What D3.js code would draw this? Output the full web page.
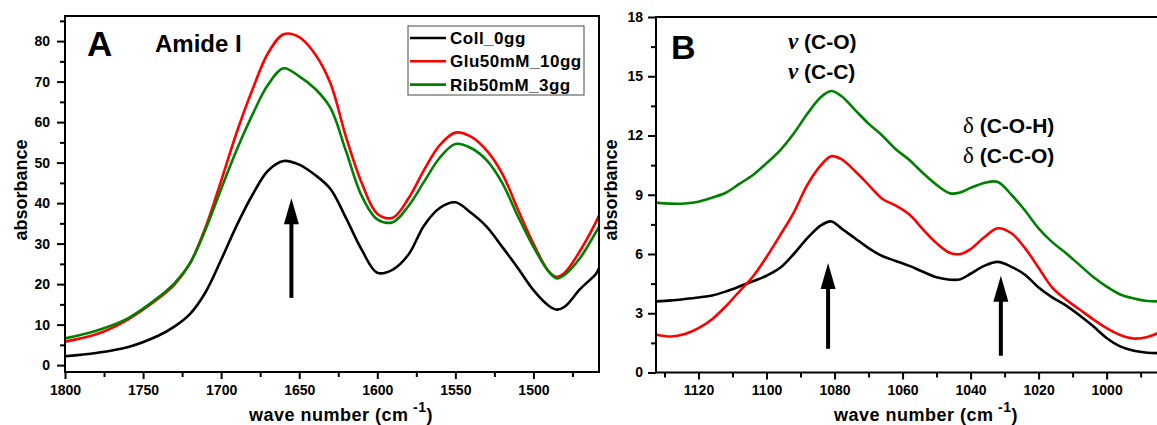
<!DOCTYPE html>
<html>
<head>
<meta charset="utf-8">
<script src="https://cdn.jsdelivr.net/npm/d3@7"></script>
<style>
  body { margin: 0; background: #fff; }
  svg { display: block; }
  text { font-family: Arial, "Liberation Sans", sans-serif; font-weight: bold; fill: #000; }
</style>
</head>
<body>
<div id="chart"></div>
<script>
// ---- panel A: Amide I region ----
const waveA = [1800, 1780, 1760, 1740, 1730, 1720, 1710, 1700, 1690, 1680,
  1670, 1660, 1650, 1640, 1630, 1620, 1610, 1600, 1590, 1580,
  1570, 1560, 1550, 1540, 1530, 1520, 1510, 1500, 1490, 1485,
  1480, 1470, 1460, 1458];
const collA = [2.2, 3.0, 4.4, 7.3, 9.5, 12.6, 18, 26, 34.5, 42,
  48, 50.4, 49.5, 47, 43.5, 36.3, 28.5, 22.8, 23.6, 27.3,
  34.5, 38.8, 40.2, 37.6, 34.2, 29.2, 24, 18.5, 14.6, 13.7,
  14.4, 18.8, 22.5, 23.9];
const gluA = [5.8, 7.6, 11.2, 16.5, 19.8, 25.1, 34, 45.5, 57.5, 68,
  77, 81.7, 81, 76.9, 69.6, 56.3, 45, 37.4, 36.4, 41.2,
  48.2, 54.3, 57.4, 56.4, 53, 47.3, 38.5, 30, 23, 21.8,
  22.8, 28.3, 35.3, 37];
const ribA = [6.6, 8.5, 11.5, 16.8, 20.2, 25.1, 33.5, 43.5, 53.2, 61.8,
  69.2, 73.3, 71.3, 68.3, 63.5, 52.8, 41.8, 36, 35.3, 39.3,
  45.3, 51.2, 54.6, 53.6, 50.6, 45, 36.8, 29.2, 23, 21.4,
  22.3, 26.5, 32.8, 34.1];
const xTicksA = [1800, 1750, 1700, 1650, 1600, 1550, 1500];
const xMinorA = [1775, 1725, 1675, 1625, 1575, 1525, 1475];
const yTicksA = [0, 10, 20, 30, 40, 50, 60, 70, 80];
const yMinorA = [5, 15, 25, 35, 45, 55, 65, 75, 85];
const arrowsA = [[1655, 16.6, 41.2]]; // wave, from, to

// ---- panel B: C-O / C-C region ----
const waveB = [1132.5, 1128, 1124, 1120, 1116, 1112, 1108, 1104, 1100, 1096,
  1092, 1088, 1084, 1081, 1078, 1074, 1070, 1066, 1062, 1058,
  1054, 1050, 1046, 1043, 1040, 1036, 1032, 1028, 1024, 1020,
  1016, 1012, 1008, 1004, 1000, 996, 992, 988, 985];
const collB = [3.6, 3.65, 3.72, 3.8, 3.9, 4.1, 4.35, 4.62, 4.9, 5.3,
  6.0, 6.8, 7.45, 7.65, 7.3, 6.8, 6.3, 5.9, 5.65, 5.4,
  5.1, 4.82, 4.7, 4.72, 5.0, 5.4, 5.6, 5.35, 4.95, 4.3,
  3.8, 3.4, 2.9, 2.35, 1.75, 1.32, 1.1, 1.0, 0.98];
const gluB = [1.91, 1.82, 1.95, 2.25, 2.7, 3.35, 4.1, 4.86, 5.85, 6.95,
  8.1, 9.5, 10.5, 10.95, 10.8, 10.2, 9.5, 8.8, 8.45, 8.0,
  7.25, 6.55, 6.05, 6.0, 6.25, 6.85, 7.3, 7.05, 6.3, 5.3,
  4.3, 3.7, 3.2, 2.7, 2.25, 1.9, 1.72, 1.8, 1.99];
const ribB = [8.6, 8.55, 8.56, 8.65, 8.85, 9.1, 9.55, 10.0, 10.6, 11.25,
  12.1, 13.1, 13.95, 14.25, 14.0, 13.3, 12.6, 12.0, 11.3, 10.76,
  10.1, 9.5, 9.07, 9.12, 9.35, 9.6, 9.65, 9.0, 8.2, 7.3,
  6.6, 6.05, 5.45, 4.85, 4.35, 3.95, 3.75, 3.62, 3.6];
const xTicksB = [1120, 1100, 1080, 1060, 1040, 1020, 1000];
const xMinorB = [1130, 1110, 1090, 1070, 1050, 1030, 1010, 990];
const yTicksB = [0, 3, 6, 9, 12, 15, 18];
const yMinorB = [1.5, 4.5, 7.5, 10.5, 13.5, 16.5];
const arrowsB = [[1081.9, 1.2, 5.55], [1031.1, 0.85, 4.9]];

const seriesNames = ["Coll_0gg", "Glu50mM_10gg", "Rib50mM_3gg"];
const seriesColors = ["#000000", "#ff0000", "#008000"];

const svg = d3.select("#chart").append("svg")
  .attr("width", 1157).attr("height", 425);

const labelFont = "Arial, 'Liberation Sans', sans-serif";

function drawPanel(p) {
  const x = d3.scaleLinear().domain(p.xDomain).range([p.left, p.right]);
  const y = d3.scaleLinear().domain(p.yDomain).range([p.bottom, p.top]);
  const g = svg.append("g");

  // y axis major + minor
  g.append("g").attr("transform", `translate(${p.left},0)`)
    .call(d3.axisLeft(y).tickValues(p.yTicks).tickSize(8).tickPadding(p.yPad).tickFormat(d3.format("d")))
    .call(a => a.select(".domain").remove())
    .call(a => a.selectAll("line").attr("stroke-width", 2))
    .call(a => a.selectAll("text").style("font-size", "14px").style("font-family", labelFont).style("font-weight", "bold"));
  g.append("g").attr("transform", `translate(${p.left},0)`)
    .call(d3.axisLeft(y).tickValues(p.yMinor).tickSize(5).tickFormat(""))
    .call(a => a.select(".domain").remove())
    .call(a => a.selectAll("line").attr("stroke-width", 2));

  // x axis major + minor
  g.append("g").attr("transform", `translate(0,${p.bottom})`)
    .call(d3.axisBottom(x).tickValues(p.xTicks).tickSize(7).tickPadding(6).tickFormat(d3.format("d")))
    .call(a => a.select(".domain").remove())
    .call(a => a.selectAll("line").attr("stroke-width", 2))
    .call(a => a.selectAll("text").style("font-size", "14px").style("font-family", labelFont).style("font-weight", "bold"));
  g.append("g").attr("transform", `translate(0,${p.bottom})`)
    .call(d3.axisBottom(x).tickValues(p.xMinor).tickSize(5).tickFormat(""))
    .call(a => a.select(".domain").remove())
    .call(a => a.selectAll("line").attr("stroke-width", 2));

  // curves
  const clipId = "clip" + p.id;
  svg.append("clipPath").attr("id", clipId).append("rect")
    .attr("x", p.left).attr("y", p.top)
    .attr("width", p.right - p.left).attr("height", p.bottom - p.top);

  const line = d3.line()
    .x(d => x(d[0])).y(d => y(d[1]))
    .curve(d3.curveCatmullRom.alpha(0.5));

  p.series.forEach((vals, i) => {
    const pts = p.wave.map((w, k) => [w, vals[k]]);
    g.append("path").datum(pts)
      .attr("clip-path", `url(#${clipId})`)
      .attr("fill", "none")
      .attr("stroke", seriesColors[i])
      .attr("stroke-width", 2.6)
      .attr("stroke-linejoin", "round")
      .attr("d", line);
  });

  // arrows
  p.arrows.forEach(a => {
    const ax = x(a[0]), y0 = y(a[1]), y1 = y(a[2]);
    g.append("line").attr("x1", ax).attr("x2", ax)
      .attr("y1", y0).attr("y2", y1 + 20)
      .attr("stroke", "#000").attr("stroke-width", 4);
    g.append("path")
      .attr("d", `M${ax},${y1} L${ax - 7.5},${y1 + 26} L${ax + 7.5},${y1 + 26} Z`)
      .attr("fill", "#000");
  });

  // frame
  g.append("rect")
    .attr("x", p.left).attr("y", p.top)
    .attr("width", p.right - p.left).attr("height", p.bottom - p.top)
    .attr("fill", "none").attr("stroke", "#000").attr("stroke-width", 2);

  // axis titles
  g.append("text")
    .attr("transform", `translate(${p.yTitleX},${190}) rotate(-90)`)
    .attr("text-anchor", "middle")
    .style("font-size", "18px")
    .text("absorbance");

  const xt = g.append("text")
    .attr("x", p.xTitleX).attr("y", 421)
    .attr("text-anchor", "middle")
    .style("font-size", "18px")
    .style("letter-spacing", "0.5px");
  xt.append("tspan").text("wave number (cm");
  xt.append("tspan").attr("dy", -9).style("font-size", "14px").text(" -1");
  xt.append("tspan").attr("dy", 9).text(")");

  return { x, y, g };
}

const A = drawPanel({
  id: "A", left: 65, right: 599, top: 16, bottom: 372,
  xDomain: [1800, 1458], yDomain: [-1.7, 86.2],
  xTicks: xTicksA, xMinor: xMinorA, yTicks: yTicksA, yMinor: yMinorA, yPad: 7,
  wave: waveA, series: [collA, gluA, ribA], arrows: arrowsA,
  yTitleX: 27, xTitleX: 341
});

const B = drawPanel({
  id: "B", left: 656, right: 1159, top: 17, bottom: 372.5,
  xDomain: [1132.5, 984.6], yDomain: [0, 18],
  xTicks: xTicksB, xMinor: xMinorB, yTicks: yTicksB, yMinor: yMinorB, yPad: 5,
  wave: waveB, series: [collB, gluB, ribB], arrows: arrowsB,
  yTitleX: 617, xTitleX: 926
});

// panel letters and annotations
svg.append("text").attr("x", 87).attr("y", 56).style("font-size", "35px").text("A");
svg.append("text").attr("x", 155).attr("y", 52).style("font-size", "24px").text("Amide I");
svg.append("text").attr("x", 671).attr("y", 59).style("font-size", "34px").text("B");

function bandLabel(x, y, sym, txt) {
  const t = svg.append("text").attr("x", x).attr("y", y).style("font-size", "21px");
  t.append("tspan").style("font-family", "'Liberation Serif', 'DejaVu Serif', serif")
    .style("font-weight", sym === "\u03bd" ? "bold" : "normal")
    .style("font-style", sym === "\u03bd" ? "italic" : "normal")
    .style("font-size", "23px").text(sym);
  t.append("tspan").text(" " + txt);
}
bandLabel(788, 49, "\u03bd", "(C-O)");
bandLabel(788, 79, "\u03bd", "(C-C)");
bandLabel(963, 133, "\u03b4", "(C-O-H)");
bandLabel(963, 163, "\u03b4", "(C-C-O)");

// legend
const legend = svg.append("g");
legend.append("rect")
  .attr("x", 408).attr("y", 26).attr("width", 176).attr("height", 69)
  .attr("fill", "#fff").attr("stroke", "#666").attr("stroke-width", 1.2);
seriesNames.forEach((name, i) => {
  const cy = 38 + i * 23.3;
  legend.append("line")
    .attr("x1", 410).attr("x2", 446).attr("y1", cy).attr("y2", cy)
    .attr("stroke", seriesColors[i]).attr("stroke-width", 2.6);
  legend.append("text")
    .attr("x", 450).attr("y", cy + 6)
    .style("font-size", "17px").style("letter-spacing", "0.5px")
    .text(name);
});
</script>
</body>
</html>
